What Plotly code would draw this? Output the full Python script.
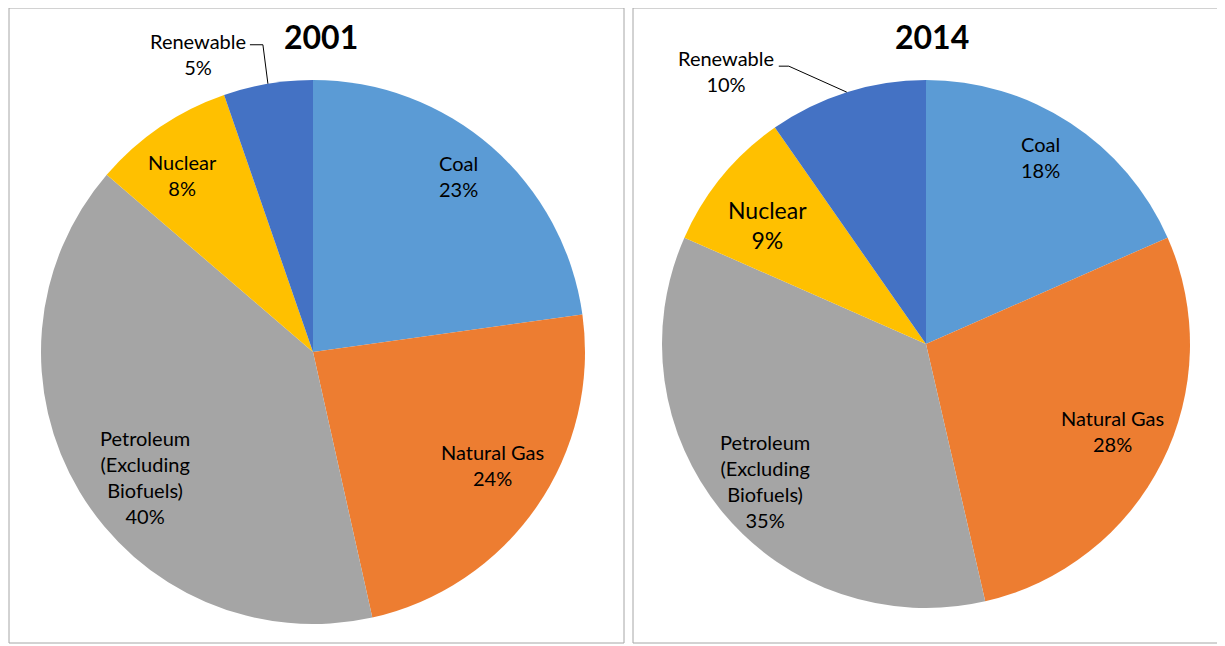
import math
import plotly.graph_objects as go

# ---- data ----
categories = ["Coal", "Natural Gas", "Petroleum (Excluding Biofuels)", "Nuclear", "Renewable"]
label_text = ["Coal", "Natural Gas", "Petroleum<br>(Excluding<br>Biofuels)", "Nuclear", "Renewable"]
values_2001 = [22.8, 23.7, 39.8, 8.4, 5.3]
values_2014 = [18.4, 28.0, 35.2, 8.7, 9.7]
titles = ["2001", "2014"]
colors = ["#5B9BD5", "#ED7D31", "#A5A5A5", "#FFC000", "#4472C4"]

# ---- layout / style ----
OFF = 8                      # page body margin
W, H = 1225 - OFF, 646 - OFF
FONT = "Lato"

geoms = [(313, 352, 272), (926, 344, 264)]          # pie centre x, y, radius (page px)
label_frac = [[0.84, 0.78, 0.77, 0.81], [0.83, 0.78, 0.80, 0.75]]
label_angle_adj = [[-1.6, -2.7, -5.8, -2.2], [-1.7, -1.6, -0.8, -2.6]]  # degrees
label_sizes = [[20, 20, 20, 20, 20], [20, 20, 20, 23, 20]]
outside_text_off = [(-70, -30), (-121, -21)]
leader_elbow_off = [[(-18, -39), (-5, -39)], [(-68, -26), (-58, -26)]]
title_pos = [(321, 36), (932, 36)]


def px(x):
    return (x - OFF) / W


def py(y):
    return 1 - (y - OFF) / H


fig = go.Figure()
annotations = []
shapes = []
for k, (vals, (cx, cy, r)) in enumerate(zip([values_2001, values_2014], geoms)):
    fig.add_trace(go.Pie(
        labels=categories, values=vals, sort=False, direction="clockwise", rotation=0,
        marker=dict(colors=colors, line=dict(width=0)),
        textinfo="none", showlegend=False,
        domain=dict(x=[px(cx - r), px(cx + r)], y=[py(cy + r), py(cy - r)]),
        hovertemplate="%{label}: %{percent}<extra></extra>",
    ))
    total = sum(vals)
    cum = 0
    for i, v in enumerate(vals):
        mid = (cum + v / 2) / total * 2 * math.pi
        cum += v
        pct = round(v / total * 100)
        txt = f"{label_text[i]}<br>{pct}%"
        size = label_sizes[k][i]
        if i == len(vals) - 1:
            tx = cx + r * math.sin(mid)
            ty = cy - r * math.cos(mid)
            ox, oy = outside_text_off[k]
            annotations.append(dict(
                x=px(tx + ox), y=py(ty + oy), xref="paper", yref="paper", text=txt,
                showarrow=False, xanchor="center", yanchor="middle",
                font=dict(family=FONT, size=size, color="#000000"),
            ))
            (s0x, s0y), (e0x, e0y) = leader_elbow_off[k]
            path = (f"M {px(tx + s0x)} {py(ty + s0y)} L {px(tx + e0x)} {py(ty + e0y)} "
                    f"L {px(tx)} {py(ty)}")
            shapes.append(dict(type="path", xref="paper", yref="paper", path=path,
                               line=dict(color="#000000", width=1)))
        else:
            a = mid + math.radians(label_angle_adj[k][i])
            f = label_frac[k][i]
            lx = cx + f * r * math.sin(a)
            ly = cy - f * r * math.cos(a)
            annotations.append(dict(
                x=px(lx), y=py(ly), xref="paper", yref="paper", text=txt,
                showarrow=False, xanchor="center", yanchor="middle",
                font=dict(family=FONT, size=size, color="#000000"),
            ))
    tx, ty = title_pos[k]
    annotations.append(dict(
        x=px(tx), y=py(ty), xref="paper", yref="paper", text=f"<b>{titles[k]}</b>",
        showarrow=False, xanchor="center", yanchor="middle",
        font=dict(family=FONT, size=32, color="#000000"),
    ))

shapes += [
    dict(type="rect", xref="paper", yref="paper", x0=px(9), x1=px(624), y0=py(643), y1=py(8),
         line=dict(color="#A6A6A6", width=1), fillcolor="rgba(0,0,0,0)"),
    dict(type="rect", xref="paper", yref="paper", x0=px(633), x1=px(1240), y0=py(643), y1=py(8),
         line=dict(color="#A6A6A6", width=1), fillcolor="rgba(0,0,0,0)"),
]

fig.update_layout(
    width=W, height=H, margin=dict(l=0, r=0, t=0, b=0),
    paper_bgcolor="white", plot_bgcolor="white",
    annotations=annotations, shapes=shapes,
    font=dict(family=FONT),
)

fig.write_html("out.html")
